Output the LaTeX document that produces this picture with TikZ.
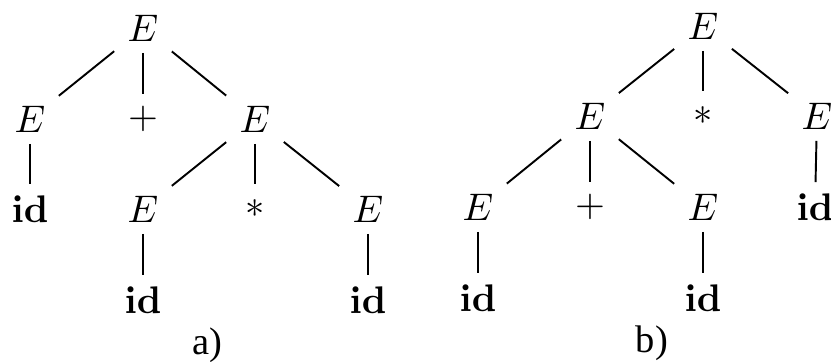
\documentclass[tikz,border=0pt]{standalone}
\usepackage[no-math]{fontspec}
\newfontfamily\labfont{Liberation Serif}
\begin{document}
\begin{tikzpicture}[x=0.26pt,y=-0.26pt,
  tn/.style={rectangle,inner sep=0pt,minimum width=14.6pt,minimum height=12.5pt},
  lab/.style={inner sep=0pt,font=\labfont},
  edge/.style={line width=0.5pt}]
\useasboundingbox (0,0) rectangle (831,361);
% tree a
\node[tn] (a0) at (143,28) {$E$};
\node[tn] (a1) at (30,119) {$E$};
\node[tn] (a2) at (143,119) {$+$};
\node[tn] (a3) at (255,119) {$E$};
\node[tn] (a4) at (30,209) {$\mathbf{id}$};
\node[tn] (a5) at (143,209) {$E$};
\node[tn] (a6) at (255,209) {$*$};
\node[tn] (a7) at (368,209) {$E$};
\node[tn] (a8) at (143,300) {$\mathbf{id}$};
\node[tn] (a9) at (368,300) {$\mathbf{id}$};
\node[lab] (la) at (207,345) {a)};
\foreach \p/\c in {a0/a1,a0/a2,a0/a3,a1/a4,a3/a5,a3/a6,a3/a7,a5/a8,a7/a9}
  \draw[edge] (\p) -- (\c);
% tree b
\node[tn] (b0) at (703,26) {$E$};
\node[tn] (b1) at (590,116) {$E$};
\node[tn] (b2) at (703,116) {$*$};
\node[tn] (b3) at (817,116) {$E$};
\node[tn] (b4) at (478,207) {$E$};
\node[tn] (b5) at (590,207) {$+$};
\node[tn] (b6) at (703,207) {$E$};
\node[tn] (b7) at (815,207) {$\mathbf{id}$};
\node[tn] (b8) at (478,298) {$\mathbf{id}$};
\node[tn] (b9) at (703,298) {$\mathbf{id}$};
\node[lab] (lb) at (652,343) {b)};
\foreach \p/\c in {b0/b1,b0/b2,b0/b3,b1/b4,b1/b5,b1/b6,b3/b7,b4/b8,b6/b9}
  \draw[edge] (\p) -- (\c);
\end{tikzpicture}
\end{document}
